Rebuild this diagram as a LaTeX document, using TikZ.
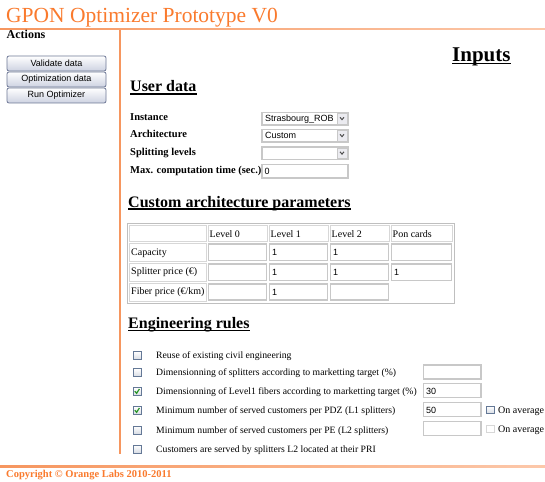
\documentclass[tikz,border=0pt]{standalone}
\usepackage{fontspec}
\setmainfont{Liberation Serif}
\newfontfamily\arial{Liberation Sans}
\definecolor{og}{RGB}{250,122,45}
\definecolor{ogline}{RGB}{246,150,95}
\definecolor{peach}{RGB}{252,200,170}
\definecolor{fldgray}{RGB}{200,200,200}
\definecolor{cellgray}{RGB}{215,215,215}
\definecolor{cbblue}{RGB}{100,120,150}
\definecolor{cbfill}{RGB}{215,220,228}
\definecolor{btnborder}{RGB}{110,120,150}
\definecolor{btnfill}{RGB}{205,210,225}
\definecolor{chk}{RGB}{40,150,40}
\definecolor{arrbg}{RGB}{235,235,240}
\begin{document}
\begin{tikzpicture}[x=1pt,y=-1pt,
  txt/.style={anchor=base west, inner sep=0pt, font=\fontsize{10}{12}\selectfont},
  rtxt/.style={anchor=base west, inner sep=0pt, font=\fontsize{9.7}{11}\selectfont},
  btxt/.style={anchor=base west, inner sep=0pt, font=\fontsize{10.5}{12}\selectfont\bfseries},
  head/.style={anchor=base west, inner sep=0pt, font=\fontsize{16}{18}\selectfont\bfseries},
  fld/.style={draw=fldgray, line width=1.2pt, fill=white},
  ftxt/.style={anchor=base west, inner sep=0pt, font=\arial\fontsize{9}{11}\selectfont},
  cell/.style={draw=cellgray, line width=0.7pt},
  cbox/.style={draw=cbblue, line width=0.8pt, top color=white, bottom color=cbfill},
  cboxoff/.style={draw=cellgray, line width=0.8pt, fill=white},
  btn/.style={draw=btnborder, line width=0.8pt, rounded corners=2pt, top color=white, bottom color=btnfill},
  btntxt/.style={inner sep=0pt, font=\arial\fontsize{9}{10}\selectfont},
  uline/.style={line width=1.1pt},
  chkmark/.style={draw=chk, line width=1.2pt},
  arrbox/.style={draw=fldgray, line width=0.6pt, fill=arrbg},
  chev/.style={line width=1pt, draw=black!70}
  ]
\useasboundingbox (0,0) rectangle (545,481);
\fill[white] (0,0) rectangle (545,481);

% title and frame lines
\node[anchor=base west, inner sep=0pt, text=og, font=\fontsize{21.5}{24}\selectfont] (title) at (6,23) {GPON Optimizer Prototype V0};
\shade[left color=ogline, right color=peach] (0,28.3) rectangle (545,30);
\draw[ogline, line width=1.4pt] (120,30) -- (120,454);
\shade[left color=ogline, right color=peach] (0,465.3) rectangle (545,467);
\node[anchor=base west, inner sep=0pt, text=og, font=\fontsize{10.5}{12}\selectfont\bfseries] (copy) at (6,477) {Copyright \textcopyright{} Orange Labs 2010-2011};

% actions
\node[anchor=base west, inner sep=0pt, font=\fontsize{12}{14}\selectfont\bfseries] (actions) at (6.5,39) {Actions};
\draw[btn] (7,56) rectangle (106,71);
\node[btntxt] (b1) at (56.5,63.5) {Validate data};
\draw[btn] (7,72) rectangle (106,87);
\node[btntxt] (b2) at (56.5,79.5) {Optimization data};
\draw[btn] (7,88) rectangle (106,103);
\node[btntxt] (b3) at (56.5,95.5) {Run Optimizer};

% Inputs heading
\node[anchor=base west, inner sep=0pt, font=\fontsize{21}{24}\selectfont\bfseries] (inputs) at (452,62) {Inputs};
\draw[uline] ([yshift=-1.5pt]inputs.base west) -- ([yshift=-1.5pt]inputs.base east);

% User data
\node[head] (ud) at (130,92) {User data};
\draw[uline] ([yshift=-2pt]ud.base west) -- ([yshift=-2pt]ud.base east);

\node[btxt] (l1) at (130,121) {Instance};
\node[btxt] (l2) at (130,138) {Architecture};
\node[btxt] (l3) at (130,155) {Splitting levels};
\node[btxt] (l4) at (130,173) {Max. computation time (sec.)};

\draw[fld] (262,112.5) rectangle (348,125);
\draw[arrbox] (337,113.5) rectangle (347,124);
\draw[chev] (340,117.3) -- (342,119.6) -- (344,117.3);
\node[ftxt] (f1) at (265,122) {Strasbourg\_ROB};
\draw[fld] (262,129.5) rectangle (348,142);
\draw[arrbox] (337,130.5) rectangle (347,141);
\draw[chev] (340,134.3) -- (342,136.6) -- (344,134.3);
\node[ftxt] (f2) at (265,139) {Custom};
\draw[fld] (262,147) rectangle (348,159.5);
\draw[arrbox] (337,148) rectangle (347,158.5);
\draw[chev] (340,151.8) -- (342,154.1) -- (344,151.8);
\draw[fld] (262,164.5) rectangle (348,178);
\node[ftxt] (f4) at (264.5,174.5) {0};

% Custom architecture parameters
\node[head] (cap) at (128,207) {Custom architecture parameters};
\draw[uline] ([yshift=-2pt]cap.base west) -- ([yshift=-2pt]cap.base east);

\draw[draw=black!25, line width=0.8pt] (127,223) rectangle (454,303);
% header row
\draw[cell] (129,225) rectangle (206,241.5);
\draw[cell] (208,225) rectangle (267,241.5);
\draw[cell] (269,225) rectangle (328,241.5);
\draw[cell] (330,225) rectangle (389,241.5);
\draw[cell] (391,225) rectangle (452,241.5);
\node[txt] (h0) at (209.5,237) {Level 0};
\node[txt] (h1) at (270.5,237) {Level 1};
\node[txt] (h2) at (331.5,237) {Level 2};
\node[txt] (h3) at (392.5,237) {Pon cards};
% label cells
\draw[cell] (129,243) rectangle (206,261.5);
\draw[cell] (129,263) rectangle (206,281.5);
\draw[cell] (129,283) rectangle (206,301);
\node[txt] (r1) at (131,255) {Capacity};
\node[txt] (r2) at (131,274.5) {Splitter price (€)};
\node[txt] (r3) at (131,294.5) {Fiber price (€/km)};
% input cells
\foreach \x/\xx in {208.5/266.5, 269.5/327.5, 330.5/388.5, 391.5/451.5} {
  \draw[fld] (\x,244) rectangle (\xx,260.5);
  \draw[fld] (\x,264) rectangle (\xx,280.5);
}
\foreach \x/\xx in {208.5/266.5, 269.5/327.5, 330.5/388.5} {
  \draw[fld] (\x,284) rectangle (\xx,300);
}
\node[ftxt] (c11) at (272,255.5) {1};
\node[ftxt] (c12) at (333,255.5) {1};
\node[ftxt] (c21) at (272,275.5) {1};
\node[ftxt] (c22) at (333,275.5) {1};
\node[ftxt] (c23) at (394,275.5) {1};
\node[ftxt] (c31) at (272,295) {1};

% Engineering rules
\node[head] (er) at (128,328) {Engineering rules};
\draw[uline] ([yshift=-2.5pt]er.base west) -- ([yshift=-2.5pt]er.base east);

\draw[cbox] (133,351.5) rectangle (141,359.5);
\draw[cbox] (133,368.5) rectangle (141,376.5);
\draw[cbox] (133,387.5) rectangle (141,395.5);
\draw[chkmark] (134.8,391.2) -- (136.6,393.3) -- (139.4,389);
\draw[cbox] (133,406.5) rectangle (141,414.5);
\draw[chkmark] (134.8,410.2) -- (136.6,412.3) -- (139.4,408);
\draw[cbox] (133,426) rectangle (141,434);
\draw[cbox] (133,445) rectangle (141,453);

\node[rtxt] (e1) at (156,358.5) {Reuse of existing civil engineering};
\node[rtxt] (e2) at (156,375.5) {Dimensionning of splitters according to marketting target (\%)};
\node[rtxt] (e3) at (156,394.5) {Dimensionning of Level1 fibers according to marketting target (\%)};
\node[rtxt] (e4) at (156,413.5) {Minimum number of served customers per PDZ (L1 splitters)};
\node[rtxt] (e5) at (156,433) {Minimum number of served customers per PE (L2 splitters)};
\node[rtxt] (e6) at (156,452) {Customers are served by splitters L2 located at their PRI};

\draw[fld] (423.5,365) rectangle (481,379);
\draw[fld] (423.5,383.5) rectangle (481,397.5);
\node[ftxt] (v3) at (426,394) {30};
\draw[fld] (423.5,402.5) rectangle (481,416.5);
\node[ftxt] (v4) at (426,413) {50};
\draw[fld] (423.5,421.5) rectangle (481,435.5);

\draw[cbox] (486.5,406) rectangle (494,413.5);
\node[txt] (oa1) at (498,413.5) {On average};
\draw[cboxoff] (486.5,425) rectangle (494,432.5);
\node[txt] (oa2) at (498,432.5) {On average};
\end{tikzpicture}
\end{document}
